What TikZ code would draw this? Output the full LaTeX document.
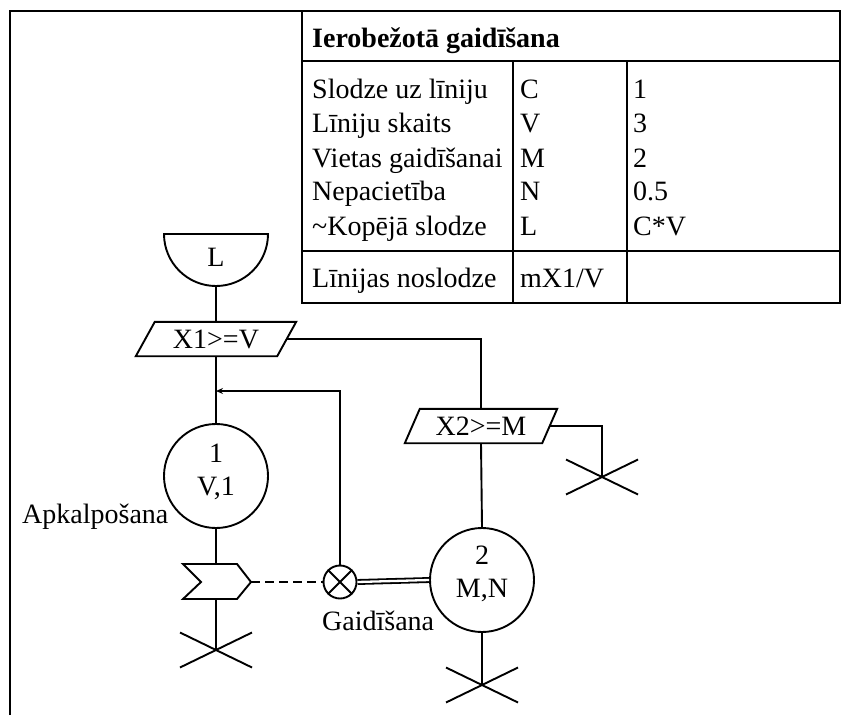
\documentclass[tikz,border=0pt]{standalone}
\usepackage{fontspec}
\setmainfont{Liberation Serif}
\usetikzlibrary{arrows.meta}
\begin{document}
\begin{tikzpicture}[x=1pt,y=-1pt,
  font=\fontsize{28}{33}\selectfont,
  txt/.style={anchor=base west, inner sep=0pt},
  frame/.style={line width=1.9pt},
  flow/.style={line width=1.9pt},
  stn/.style={circle, draw, line width=1.9pt, minimum size=104pt, inner sep=0pt},
  gate/.style={rectangle, inner sep=0pt, minimum height=34pt},
  cap2/.style={align=center, inner sep=0pt},
  dashconn/.style={line width=1.6pt, dash pattern=on 9pt off 5pt},
  dblconn/.style={line width=1.8pt, double, double distance=2.3pt},
  sinkx/.style={line width=1.9pt}
]
\useasboundingbox (0,0) rectangle (842,715);

% outer frame and parameter table
\draw[frame] (10,715) -- (10,11) -- (840,11) -- (840,303) -- (302,303) -- (302,11);
\draw[frame] (302,61) -- (840,61);
\draw[frame] (302,251) -- (840,251);
\draw[frame] (513,61) -- (513,303);
\draw[frame] (627,61) -- (627,303);

\node[txt] (hdr) at (312,47) {\bfseries Ierobežotā gaidīšana};
\node[txt] (r1a) at (312,98)  {Slodze uz līniju};
\node[txt] (r1b) at (520,98)  {C};
\node[txt] (r1c) at (633,98)  {1};
\node[txt] (r2a) at (312,132) {Līniju skaits};
\node[txt] (r2b) at (520,132) {V};
\node[txt] (r2c) at (633,132) {3};
\node[txt] (r3a) at (312,167) {Vietas gaidīšanai};
\node[txt] (r3b) at (520,167) {M};
\node[txt] (r3c) at (633,167) {2};
\node[txt] (r4a) at (312,200) {Nepacietība};
\node[txt] (r4b) at (520,200) {N};
\node[txt] (r4c) at (633,200) {0.5};
\node[txt] (r5a) at (312,235) {\textasciitilde Kopējā slodze};
\node[txt] (r5b) at (520,235) {L};
\node[txt] (r5c) at (633,235) {C*V};
\node[txt] (r6a) at (312,287) {Līnijas noslodze};
\node[txt] (r6b) at (520,287) {mX1/V};

% source (bowl)
\draw[flow] (164,234) -- (268,234) arc[start angle=0, end angle=180, radius=52] -- cycle;
\node (L) at (216,257) {L};
\coordinate (Lb) at (216,286);

% gates
\node[gate, minimum width=141pt] (X1) at (216,339) {X1>=V};
\draw[flow] ([xshift=9.5pt]X1.north west) -- ([xshift=9.5pt]X1.north east)
  -- ([xshift=-9.5pt]X1.south east) -- ([xshift=-9.5pt]X1.south west) -- cycle;
\node[gate, minimum width=137pt] (X2) at (481,426) {X2>=M};
\draw[flow] ([xshift=7.5pt]X2.north west) -- ([xshift=7.5pt]X2.north east)
  -- ([xshift=-7.5pt]X2.south east) -- ([xshift=-7.5pt]X2.south west) -- cycle;

% service stations
\node[stn] (S1) at (216,476) {};
\node[cap2] (S1t) at ([yshift=4pt]S1.center) {1\\V,1};
\node[stn] (S2) at (482,580) {};
\node[cap2] (S2t) at ([yshift=6pt]S2.center) {2\\M,N};

\node[txt] (ap) at (22,523) {Apkalpošana};
\node[txt] (ga) at (322,630) {Gaidīšana};

% waiting valve
\node[circle, draw, line width=1.9pt, minimum size=33pt, inner sep=0pt] (G) at (340,582) {};
\draw[flow] (G.north west) -- (G.south east) (G.north east) -- (G.south west);

% chevron
\draw[flow] (183,564) -- (237,564) -- (251,582) -- (237,599) -- (183,599) -- (201,582) -- cycle;
\coordinate (chtop) at (216,564);
\coordinate (chbot) at (216,599);
\coordinate (chtip) at (251,582);

% sinks
\coordinate (c1) at (216,650);
\coordinate (c2) at (482,685);
\coordinate (c3) at (602,477);
\foreach \c in {c1,c2,c3}{
  \draw[sinkx] ([shift={(-36,-17.5)}]\c) -- ([shift={(36,17.5)}]\c);
  \draw[sinkx] ([shift={(-36,17.5)}]\c) -- ([shift={(36,-17.5)}]\c);
}

% connectors
\coordinate (J) at (216,391);
\draw[flow] (Lb) -- (X1.north);
\draw[flow] (X1.south) -- (S1.north);
\draw[flow, -{Stealth[length=7pt,width=6pt]}] (G.north) |- (J);
\draw[flow] (X1.east) -| (X2.north);
\draw[flow] (X2.south) -- (S2.north);
\draw[flow] (X2.east) -| (c3);
\draw[flow] (S2.south) -- (c2);
\draw[flow] (S1.south) -- (chtop);
\draw[flow] (chbot) -- (c1);
\draw[dashconn] (chtip) -- (G.west);
\draw[dblconn] (G.east) -- (S2.west);
\end{tikzpicture}
\end{document}
